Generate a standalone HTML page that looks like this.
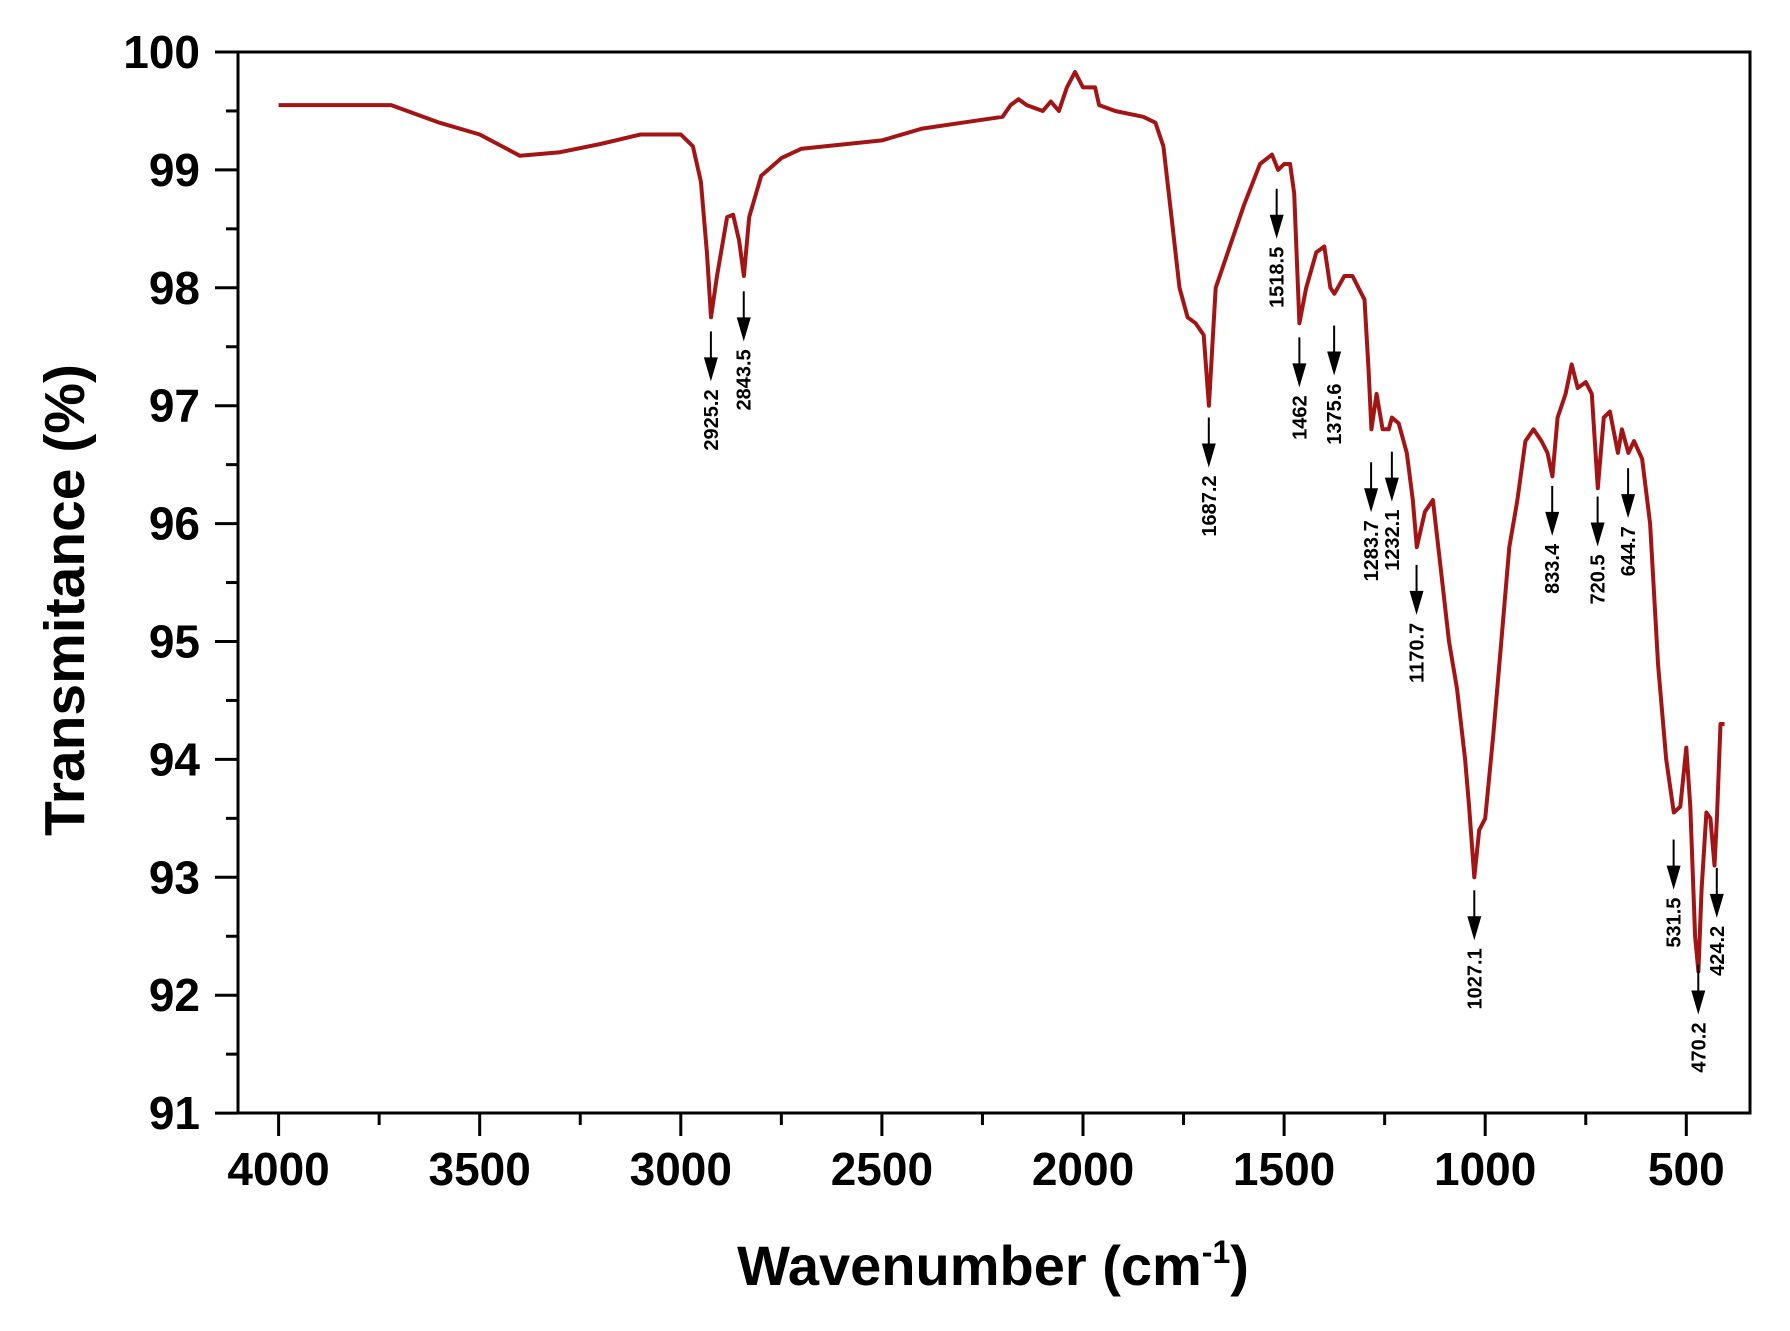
<!DOCTYPE html>
<html><head><meta charset="utf-8">
<style>
html,body{margin:0;padding:0;background:#fff;}
svg{display:block;font-family:"Liberation Sans",Arial,sans-serif;}
</style></head>
<body>
<svg id="chart" width="1790" height="1331" viewBox="0 0 1790 1331">
<rect x="0" y="0" width="1790" height="1331" fill="#fff"/>
<g id="axes"></g>
<g id="series"></g>
<g id="annots"></g>
<text x="993" y="1285" text-anchor="middle" font-size="56" font-weight="bold">Wavenumber (cm<tspan dy="-22" font-size="32">-1</tspan><tspan dy="22">)</tspan></text>
<text transform="translate(84,600) rotate(-90)" text-anchor="middle" font-size="57" font-weight="bold">Transmitance (%)</text>
</svg>
<script>
const wavenumbers = [4000,3720,3600,3500,3400,3300,3200,3100,3000,2970,2950,2935,2925,2910,2885,2870,2855,2843,2830,2800,2750,2700,2500,2400,2300,2200,2180,2160,2140,2100,2080,2060,2040,2020,2000,1970,1960,1920,1850,1820,1800,1780,1760,1740,1720,1700,1687,1670,1640,1600,1560,1530,1515,1500,1485,1475,1462,1445,1420,1400,1385,1375,1350,1330,1300,1290,1283,1270,1255,1240,1232,1215,1195,1180,1170,1150,1130,1110,1090,1070,1050,1040,1027,1015,1000,980,960,940,920,900,880,860,845,833,820,800,785,770,750,735,720,705,690,670,660,644,630,610,590,570,550,531,515,500,490,478,470,462,450,440,430,424,415,405];
const transmittance = [99.55,99.55,99.4,99.3,99.12,99.15,99.22,99.3,99.3,99.2,98.9,98.3,97.75,98.1,98.6,98.62,98.4,98.1,98.6,98.95,99.1,99.18,99.25,99.35,99.4,99.45,99.55,99.6,99.55,99.5,99.58,99.5,99.7,99.83,99.7,99.7,99.55,99.5,99.45,99.4,99.2,98.6,98.0,97.75,97.7,97.6,97.0,98.0,98.3,98.7,99.05,99.13,99.0,99.05,99.05,98.8,97.7,98.0,98.3,98.35,98.0,97.95,98.1,98.1,97.9,97.3,96.8,97.1,96.8,96.8,96.9,96.85,96.6,96.2,95.8,96.1,96.2,95.6,95.0,94.6,94.0,93.6,93.0,93.4,93.5,94.2,95.0,95.8,96.2,96.7,96.8,96.7,96.6,96.4,96.9,97.1,97.35,97.15,97.2,97.1,96.3,96.9,96.95,96.6,96.8,96.6,96.7,96.55,96.0,94.8,94.0,93.55,93.6,94.1,93.6,92.5,92.2,92.9,93.55,93.5,93.1,93.5,94.3,94.3];
const peakLabels = ["2925.2","2843.5","1687.2","1518.5","1462","1375.6","1283.7","1232.1","1170.7","1027.1","833.4","720.5","644.7","531.5","470.2","424.2"];
const peakArrowTop = [97.63,97.97,96.90,98.84,97.58,97.68,96.52,96.61,95.65,92.89,96.32,96.23,96.47,93.32,92.26,93.08];
const xTicks = [4000,3500,3000,2500,2000,1500,1000,500];
const yTicks = [91,92,93,94,95,96,97,98,99,100];

const NS="http://www.w3.org/2000/svg";
function x(w){return 278.6+(4000-w)*0.4022;}
function y(v){return 52+(100-v)*117.9;}
function mk(tag,attrs,parent){const e=document.createElementNS(NS,tag);for(const k in attrs)e.setAttribute(k,attrs[k]);parent.appendChild(e);return e;}
const axes=document.getElementById('axes');
const frame=mk('rect',{x:238,y:52,width:1512,height:1061,fill:'none',stroke:'#000','stroke-width':3},axes);


yTicks.forEach(v=>{
  const t=mk('line',{x1:215,x2:238,y1:y(v),y2:y(v),stroke:'#000','stroke-width':3},axes);
  
  
  if(v<100){const m=mk('line',{x1:226,x2:238,y1:y(v+0.5),y2:y(v+0.5),stroke:'#000','stroke-width':3},axes);
  
  }
  const l=mk('text',{x:200,y:y(v)+16,'text-anchor':'end','font-size':46,'font-weight':'bold'},axes);
  l.textContent=v;
  
  
});
xTicks.forEach(w=>{
  const t=mk('line',{x1:x(w),x2:x(w),y1:1113,y2:1136,stroke:'#000','stroke-width':3},axes);
  
  
  if(w>500){const m=mk('line',{x1:x(w-250),x2:x(w-250),y1:1113,y2:1125,stroke:'#000','stroke-width':3},axes);
  
  }
  const l=mk('text',{x:x(w),y:1185,'text-anchor':'middle','font-size':46,'font-weight':'bold'},axes);
  l.textContent=w;
  
  
});
const ser=document.getElementById('series');
const pts=wavenumbers.map((w,i)=>x(w).toFixed(1)+','+y(transmittance[i]).toFixed(1)).join(' ');
const pl=mk('polyline',{points:pts,fill:'none',stroke:'#a31515','stroke-width':4,'stroke-linejoin':'round'},ser);


const an=document.getElementById('annots');
peakLabels.forEach((lab,i)=>{
  const px=x(parseFloat(lab)), top=y(peakArrowTop[i]);
  const g=mk('g',{},an);
  
  
  mk('line',{x1:px,x2:px,y1:top,y2:top+30,stroke:'#000','stroke-width':2},g);
  mk('polygon',{points:`${px-7},${top+26} ${px+7},${top+26} ${px},${top+50}`,fill:'#000'},g);
  const t=mk('text',{transform:`translate(${px+7},${top+58}) rotate(-90)`,'text-anchor':'end','font-size':20,'font-weight':'bold'},g);
  t.textContent=lab;
});
</script>
</body></html>
